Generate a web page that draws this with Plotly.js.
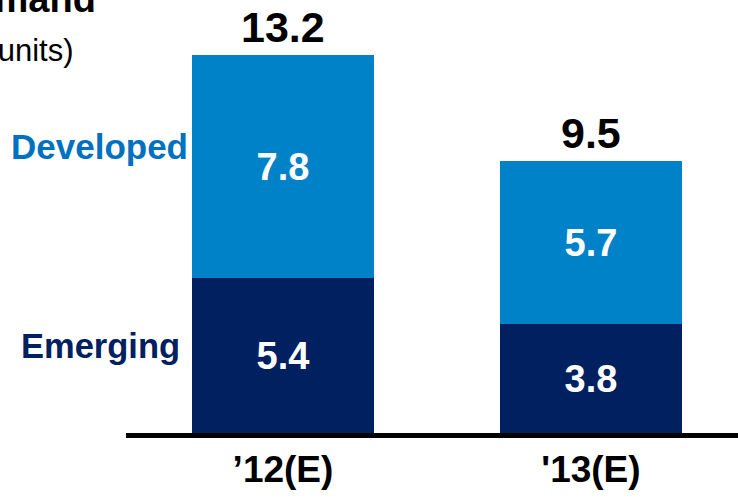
<!DOCTYPE html>
<html>
<head>
<meta charset="utf-8">
<script src="https://cdn.plot.ly/plotly-3.0.1.min.js"></script>
<style>html,body{margin:0;padding:0;background:#fff;}#chart{width:738px;height:498px;}</style>
</head>
<body>
<div id="chart"></div>
<script>
const categories = ["\u201912(E)", "'13(E)"];
const emerging = [5.4, 3.8];
const developed = [7.8, 5.7];
const totals = [13.2, 9.5];
const seriesNames = ["Emerging", "Developed"];
const titleText = "Demand";
const subtitleText = "(Millions of units)";

const W = 738, H = 498;
const FONT = "Liberation Sans, Arial, sans-serif";
const colEmerging = "#002060";
const colDeveloped = "#0082C8";
const colDevText = "#0070C0";

const xIdx = categories.map((c, i) => i);

const traces = [
  {
    type: "bar", x: xIdx, y: emerging, name: seriesNames[0],
    marker: {color: colEmerging, line: {width: 0}},
    width: 0.588,
    text: emerging.map(v => v.toFixed(1)), textposition: "inside", insidetextanchor: "middle",
    textfont: {family: FONT, size: 38, color: "#ffffff", weight: "bold"},
    constraintext: "none", hoverinfo: "skip"
  },
  {
    type: "bar", x: xIdx, y: developed, name: seriesNames[1],
    marker: {color: colDeveloped, line: {width: 0}},
    width: 0.588,
    text: developed.map(v => v.toFixed(1)), textposition: "inside", insidetextanchor: "middle",
    textfont: {family: FONT, size: 38, color: "#ffffff", weight: "bold"},
    constraintext: "none", hoverinfo: "skip"
  }
];

const px = v => v / W;
const py = v => 1 - v / H;

const annotations = [];
totals.forEach((t, i) => {
  annotations.push({
    xref: "x", yref: "y", x: xIdx[i], y: t, text: t.toFixed(1),
    showarrow: false, yanchor: "bottom", xanchor: "center", yshift: 2,
    font: {family: FONT, size: 43, color: "#000000", weight: "bold"}
  });
});
annotations.push({
  xref: "paper", yref: "paper", x: px(190), y: py(146), text: seriesNames[1],
  showarrow: false, xanchor: "right", yanchor: "middle",
  font: {family: FONT, size: 35, color: colDevText, weight: "bold"}
});
annotations.push({
  xref: "paper", yref: "paper", x: px(182), y: py(346), text: seriesNames[0],
  showarrow: false, xanchor: "right", yanchor: "middle",
  font: {family: FONT, size: 34.5, color: colEmerging, weight: "bold"}
});
annotations.push({
  xref: "paper", yref: "paper", x: px(98), y: py(22), text: titleText,
  showarrow: false, xanchor: "right", yanchor: "bottom",
  font: {family: FONT, size: 38, color: "#000000", weight: "bold"}
});
annotations.push({
  xref: "paper", yref: "paper", x: px(76), y: py(51), text: subtitleText,
  showarrow: false, xanchor: "right", yanchor: "middle",
  font: {family: FONT, size: 31, color: "#000000"}
});

const layout = {
  width: W, height: H,
  margin: {l: 0, r: 0, t: 0, b: 0, pad: 0},
  paper_bgcolor: "#ffffff", plot_bgcolor: "#ffffff",
  barmode: "stack", bargap: 0,
  showlegend: false,
  xaxis: {
    domain: [126 / W, 1],
    range: [-0.5097, 1.4773],
    tickmode: "array", tickvals: xIdx, ticktext: categories,
    showline: true, linecolor: "#000000", linewidth: 4.5,
    showgrid: false, zeroline: false, ticks: "",
    tickfont: {family: FONT, size: 37, color: "#000000", weight: "bold"},
    fixedrange: true
  },
  yaxis: {
    domain: [65 / H, 1],
    range: [0, 433 / 28.64],
    showline: false, showgrid: false, zeroline: false, showticklabels: false, ticks: "",
    fixedrange: true
  },
  annotations: annotations
};

Plotly.newPlot("chart", traces, layout, {staticPlot: true, displayModeBar: false});
</script>
</body>
</html>
